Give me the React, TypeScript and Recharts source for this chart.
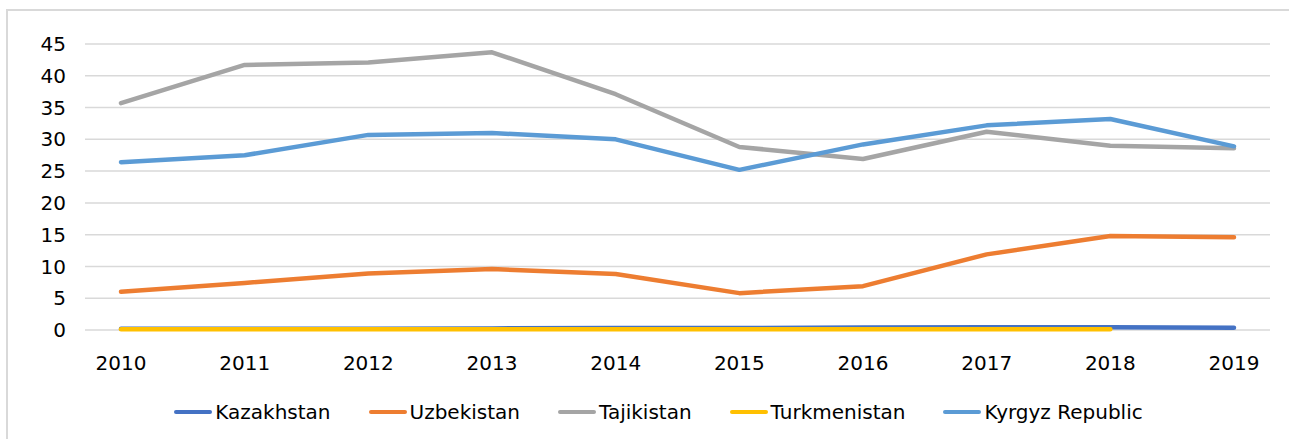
import React from "react";
import {
  LineChart,
  Line,
  XAxis,
  YAxis,
  CartesianGrid,
  Legend,
} from "recharts";

const years = ["2010", "2011", "2012", "2013", "2014", "2015", "2016", "2017", "2018", "2019"];

const kazakhstan = [0.2, 0.2, 0.2, 0.25, 0.3, 0.3, 0.4, 0.45, 0.45, 0.35];
const uzbekistan = [6.0, 7.4, 8.9, 9.6, 8.8, 5.8, 6.9, 11.9, 14.8, 14.6];
const tajikistan = [35.7, 41.7, 42.1, 43.7, 37.1, 28.8, 26.9, 31.2, 29.0, 28.6];
const turkmenistan = [0.1, 0.1, 0.1, 0.1, 0.1, 0.1, 0.1, 0.1, 0.1, null];
const kyrgyz = [26.4, 27.5, 30.7, 31.0, 30.0, 25.2, 29.2, 32.2, 33.2, 28.9];

const yTicks = [0, 5, 10, 15, 20, 25, 30, 35, 40, 45];

const series = [
  { key: "kazakhstan", name: "Kazakhstan", color: "#4472C4", values: kazakhstan },
  { key: "uzbekistan", name: "Uzbekistan", color: "#ED7D31", values: uzbekistan },
  { key: "tajikistan", name: "Tajikistan", color: "#A5A5A5", values: tajikistan },
  { key: "turkmenistan", name: "Turkmenistan", color: "#FFC000", values: turkmenistan },
  { key: "kyrgyz", name: "Kyrgyz Republic", color: "#5B9BD5", values: kyrgyz },
];

const data = years.map((year, i) => {
  const row: Record<string, string | number | null> = { year };
  series.forEach((s) => {
    row[s.key] = s.values[i];
  });
  return row;
});

const FONT = "'DejaVu Sans', Verdana, sans-serif";

function ChartLegend() {
  return (
    <div
      style={{
        height: 30,
        display: "flex",
        justifyContent: "center",
        alignItems: "center",
        fontFamily: FONT,
        fontSize: 20,
        color: "#000",
      }}
    >
      {series.map((s, i) => (
        <div
          key={s.key}
          style={{ display: "flex", alignItems: "center", marginLeft: i === 0 ? 0 : 38 }}
        >
          <span
            style={{
              display: "inline-block",
              width: 38,
              height: 4,
              borderRadius: 2,
              background: s.color,
              marginRight: 3,
            }}
          />
          <span>{s.name}</span>
        </div>
      ))}
    </div>
  );
}

export default function App() {
  return (
    <div
      style={{
        position: "fixed",
        left: 0,
        top: 0,
        width: 1289,
        height: 439,
        background: "#fff",
        overflow: "hidden",
      }}
    >
      <div
        style={{
          position: "absolute",
          left: 6,
          top: 9,
          width: 1300,
          height: 450,
          border: "2px solid #d9d9d9",
          boxSizing: "border-box",
        }}
      />
      <div style={{ position: "absolute", left: 0, top: 0 }}>
        <LineChart
          width={1289}
          height={439}
          data={data}
          margin={{ top: 44, right: 19, left: 25, bottom: 39 }}
        >
          <CartesianGrid vertical={false} stroke="#d9d9d9" strokeWidth={1.5} />
          <XAxis
            dataKey="year"
            padding={{ left: 36, right: 36 }}
            axisLine={false}
            tickLine={false}
            tickSize={0}
            tickMargin={26}
            height={40}
            interval={0}
            tick={{ fill: "#000", fontSize: 20, fontFamily: FONT }}
          />
          <YAxis
            domain={[0, 45]}
            ticks={yTicks}
            width={60}
            axisLine={false}
            tickLine={false}
            tickSize={0}
            tickMargin={19}
            tick={{ fill: "#000", fontSize: 20, fontFamily: FONT }}
          />
          <Legend
            verticalAlign="bottom"
            height={30}
            content={() => <ChartLegend />}
            wrapperStyle={{ top: 397, bottom: "auto", left: 14, width: 1289 }}
          />
          {series.map((s) => (
            <Line
              key={s.key}
              dataKey={s.key}
              name={s.name}
              stroke={s.color}
              strokeWidth={4.5}
              strokeLinecap="round"
              strokeLinejoin="round"
              dot={false}
              activeDot={false}
              isAnimationActive={false}
            />
          ))}
        </LineChart>
      </div>
    </div>
  );
}
